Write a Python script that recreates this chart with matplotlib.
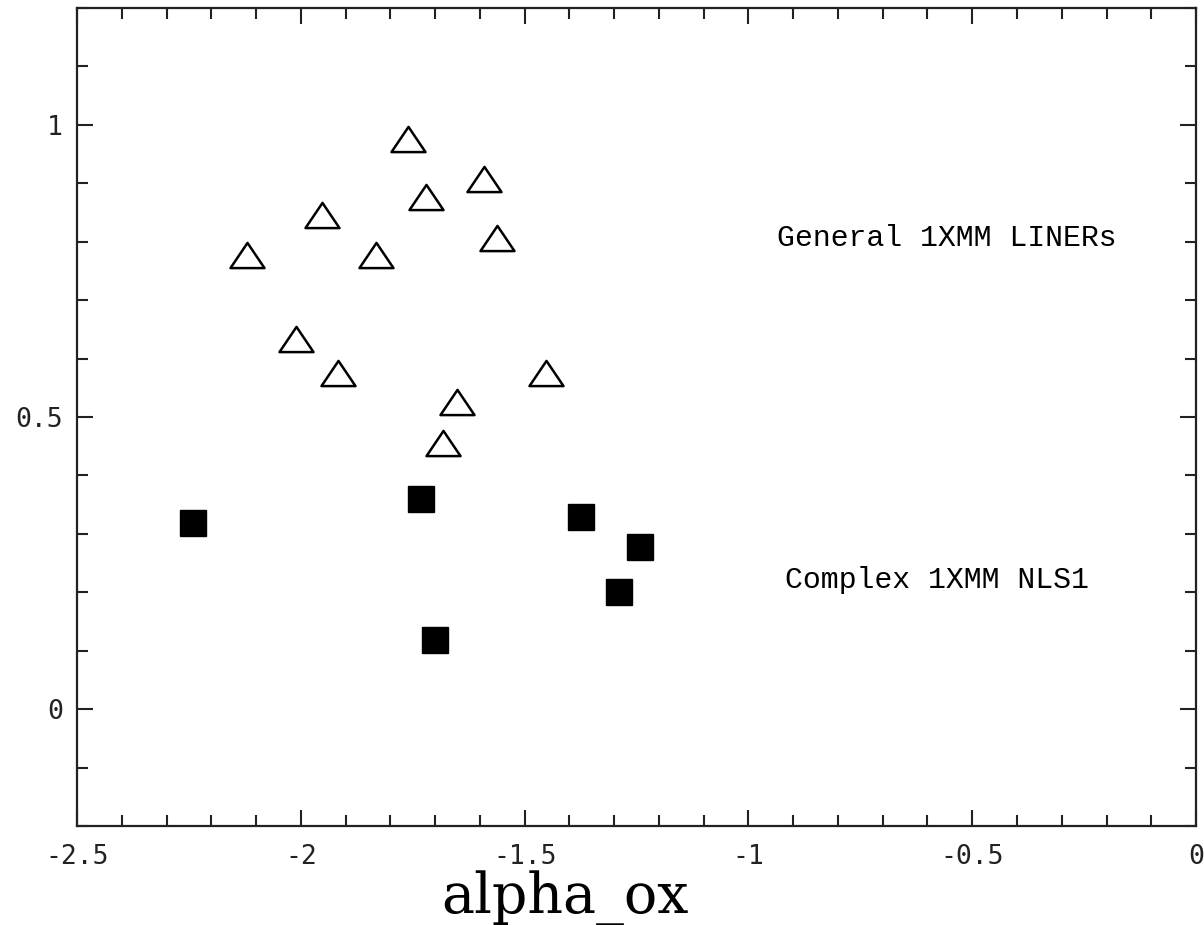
import matplotlib
matplotlib.use("Agg")
import matplotlib.pyplot as plt
from matplotlib.path import Path
from matplotlib.ticker import MultipleLocator

# general 1XMM LINERs (open triangles)
liner_aox = [-1.760, -1.591, -1.721, -1.952, -1.561, -2.121, -1.831,
             -2.011, -1.917, -1.452, -1.651, -1.682]
liner_y = [0.976, 0.907, 0.876, 0.846, 0.807, 0.777, 0.777,
           0.633, 0.575, 0.576, 0.526, 0.455]

# complex 1XMM NLS1 (filled squares)
nls1_aox = [-2.240, -1.731, -1.375, -1.243, -1.290, -1.701]
nls1_y = [0.319, 0.359, 0.329, 0.278, 0.200, 0.118]

xticks = [-2.5, -2, -1.5, -1, -0.5, 0]
xlabels = ["-2.5", "-2", "-1.5", "-1", "-0.5", "0"]
yticks = [0, 0.5, 1]
ylabels = ["0", "0.5", "1"]

# wide flat triangle like the pgplot symbol
tri = Path([(-1, -0.74), (1, -0.74), (0, 0.74), (-1, -0.74)],
           [Path.MOVETO, Path.LINETO, Path.LINETO, Path.CLOSEPOLY])

fig = plt.figure(figsize=(12.04, 9.25), dpi=100)
ax = fig.add_axes([0.064, 0.107, 0.9294, 0.8844])

ax.plot(liner_aox, liner_y, linestyle="none", marker=tri, markersize=24.5,
        markerfacecolor="white", markeredgecolor="black", markeredgewidth=1.8)
ax.plot(nls1_aox, nls1_y, linestyle="none", marker="s", markersize=18.5,
        markerfacecolor="black", markeredgecolor="black")

ax.text(-0.936, 0.807, "General 1XMM LINERs", family="Liberation Mono",
        fontsize=21.5, va="center", ha="left")
ax.text(-0.918, 0.221, "Complex 1XMM NLS1", family="Liberation Mono",
        fontsize=21.5, va="center", ha="left")

ax.set_xlim(-2.5, 0)
ax.set_ylim(-0.2, 1.2)
ax.set_xticks(xticks)
ax.set_xticklabels(xlabels)
ax.set_yticks(yticks)
ax.set_yticklabels(ylabels)
ax.xaxis.set_minor_locator(MultipleLocator(0.1))
ax.yaxis.set_minor_locator(MultipleLocator(0.1))

ax.tick_params(which="both", direction="in", top=True, right=True,
               width=1.5, color="#222222")
ax.tick_params(which="major", length=11.5)
ax.tick_params(which="minor", length=8)
ax.tick_params(axis="x", which="major", pad=13)
ax.tick_params(axis="y", which="major", pad=10)
for lab in ax.get_xticklabels() + ax.get_yticklabels():
    lab.set_family("DejaVu Sans Mono")
    lab.set_fontsize(19)
    lab.set_color("#222222")

for s in ax.spines.values():
    s.set_linewidth(1.6)
    s.set_color("#222222")

# axis title sits low, baseline near the bottom edge
fig.text(565 / 1204, 12 / 925, "alpha_ox", family="DejaVu Serif",
         fontsize=40, ha="center", va="baseline")

fig.savefig("out.png", dpi=100)
